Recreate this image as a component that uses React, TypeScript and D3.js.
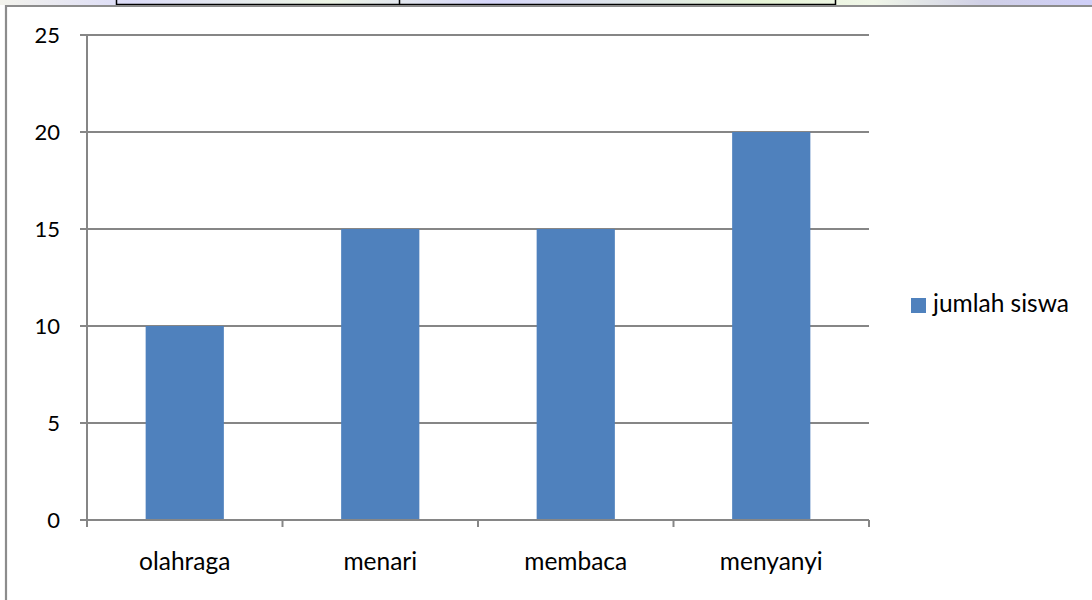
import React from "react";
import * as d3 from "d3";

const categories: string[] = ["olahraga", "menari", "membaca", "menyanyi"];
const jumlahSiswa: number[] = [10, 15, 15, 20];
const yTicks: number[] = [0, 5, 10, 15, 20, 25];
const seriesName = "jumlah siswa";

const W = 1092;
const H = 600;
const plot = { left: 87, right: 869, top: 35, bottom: 520 };
const FONT = "Lato, 'Open Sans', 'DejaVu Sans', sans-serif";
const GRID = "#868686";
const BAR = "#4F81BD";

export default function App() {
  const x = d3
    .scaleBand<string>()
    .domain(categories)
    .range([plot.left, plot.right])
    .paddingInner(0)
    .paddingOuter(0);
  const y = d3.scaleLinear().domain([0, 25]).range([plot.bottom, plot.top]);
  const barW = x.step() * 0.4;
  const boundaries = d3.range(categories.length + 1).map((i) => plot.left + i * x.step());

  return (
    <svg
      width={W}
      height={H}
      style={{ position: "absolute", left: 0, top: 0, display: "block" }}
      viewBox={`0 0 ${W} ${H}`}
    >
      <defs>
        <linearGradient id="strip" x1="0" x2="1" y1="0" y2="0">
          <stop offset="0" stopColor="#f3f3ec" />
          <stop offset="0.12" stopColor="#dcdcf8" />
          <stop offset="0.3" stopColor="#ecf4e4" />
          <stop offset="0.45" stopColor="#d6d6fa" />
          <stop offset="0.7" stopColor="#e6f4d6" />
          <stop offset="0.8" stopColor="#f0f6e8" />
          <stop offset="0.9" stopColor="#d0d0e6" />
          <stop offset="1" stopColor="#cfcff8" />
        </linearGradient>
      </defs>
      <rect x={0} y={0} width={W} height={H} fill="#ffffff" />
      {/* document strip above the chart */}
      <rect x={0} y={0} width={W} height={5} fill="url(#strip)" />
      <path d="M116.5,0 V4.5 H835.5 V0 M399.5,0 V4.5" fill="none" stroke="#000" strokeWidth={1.5} />
      {/* chart frame */}
      <path d="M6,600 V6 H1092" fill="none" stroke="#8c8c8c" strokeWidth={2.2} />

      {/* gridlines and y ticks */}
      {yTicks.map((t) => (
        <g key={t}>
          <line x1={80} x2={plot.right} y1={y(t)} y2={y(t)} stroke={GRID} strokeWidth={2} />
          <text
            x={60}
            y={y(t)}
            dy="0.36em"
            textAnchor="end"
            fontFamily={FONT}
            fontSize={22}
            fill="#000"
          >
            {t}
          </text>
        </g>
      ))}

      {/* bars */}
      {categories.map((c, i) => {
        const cx = (x(c) as number) + x.bandwidth() / 2;
        return (
          <rect
            key={c}
            x={cx - barW / 2}
            y={y(jumlahSiswa[i])}
            width={barW}
            height={y(0) - y(jumlahSiswa[i])}
            fill={BAR}
          />
        );
      })}

      {/* axes */}
      <line x1={plot.left} x2={plot.left} y1={plot.top} y2={plot.bottom + 6} stroke={GRID} strokeWidth={2} />
      <line x1={80} x2={plot.right} y1={y(0)} y2={y(0)} stroke={GRID} strokeWidth={2} />
      {boundaries.map((bx, i) => (
        <line key={i} x1={bx} x2={bx} y1={y(0)} y2={y(0) + 7} stroke={GRID} strokeWidth={2} />
      ))}

      {/* category labels */}
      {categories.map((c) => (
        <text
          key={c}
          x={(x(c) as number) + x.bandwidth() / 2}
          y={570}
          textAnchor="middle"
          fontFamily={FONT}
          fontSize={24.5}
          fill="#000"
        >
          {c}
        </text>
      ))}

      {/* legend */}
      <rect x={911} y={298} width={15} height={15} fill={BAR} />
      <text x={933} y={312} fontFamily={FONT} fontSize={24.5} fill="#000">
        {seriesName}
      </text>
    </svg>
  );
}
